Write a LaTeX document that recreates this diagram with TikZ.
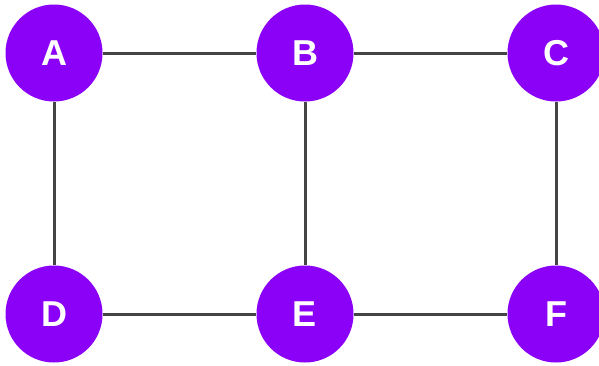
\documentclass[tikz,border=0pt]{standalone}
\usepackage{fontspec}
\setmainfont{Liberation Sans}
\definecolor{nodepurple}{RGB}{139,0,246}
\definecolor{edgegray}{RGB}{68,68,68}
\begin{document}
\begin{tikzpicture}[x=1pt,y=-1pt,
  vertex/.style={circle,fill=nodepurple,draw=none,minimum size=97pt,inner sep=0pt,
    text=white,font=\fontsize{36}{36}\selectfont\bfseries},
  edge/.style={draw=edgegray,line width=3pt}]
\useasboundingbox (0,0) rectangle (599,365);
% six vertices on a 3 x 2 grid
\node[vertex] (A) at (54,53) {\raisebox{-2pt}{A}};
\node[vertex] (B) at (305,53) {\raisebox{-2pt}{B}};
\node[vertex] (C) at (556,53) {\raisebox{-2pt}{C}};
\node[vertex] (D) at (54,314) {\raisebox{-2pt}{D}};
\node[vertex] (E) at (305,314) {\raisebox{-2pt}{E}};
\node[vertex] (F) at (556,314) {\raisebox{-2pt}{F}};
% edges
\draw[edge] (A) -- (B);
\draw[edge] (B) -- (C);
\draw[edge] (A) -- (D);
\draw[edge] (B) -- (E);
\draw[edge] (C) -- (F);
\draw[edge] (D) -- (E);
\draw[edge] (E) -- (F);
\end{tikzpicture}
\end{document}
